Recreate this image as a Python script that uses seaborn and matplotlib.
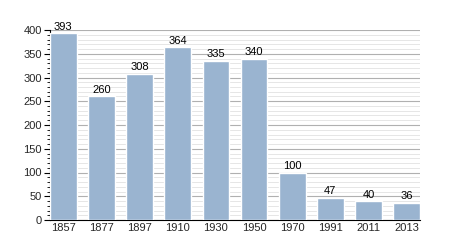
import matplotlib
matplotlib.use("Agg")
import matplotlib.pyplot as plt
import seaborn as sns
import pandas as pd
from matplotlib.ticker import MultipleLocator
from matplotlib import font_manager as fm

years = ["1857", "1877", "1897", "1910", "1930", "1950", "1970", "1991", "2011", "2013"]
population = [393, 260, 308, 364, 335, 340, 100, 47, 40, 36]

df = pd.DataFrame({"year": years, "pop": population})

sns.set_theme(style="white")
fam = "Liberation Sans"
try:
    p = fm.findfont(fm.FontProperties(family="Liberation Sans"), fallback_to_default=False)
    if "Narrow" in p:
        fam = "Noto Sans"
except Exception:
    fam = "DejaVu Sans"
plt.rcParams["font.family"] = [fam, "DejaVu Sans"]

fig = plt.figure(figsize=(4.5, 2.5), dpi=100)
ax = fig.add_axes([50/450, 30/250, 370/450, 190/250])

sns.barplot(data=df, x="year", y="pop", color="#9ab4d0", saturation=1, width=0.7, ax=ax, zorder=3)

ax.set_xlim(-0.35, 9.35)
ax.set_ylim(0, 400)
ax.yaxis.set_major_locator(MultipleLocator(50))
ax.yaxis.set_minor_locator(MultipleLocator(10))
ax.grid(which="major", axis="y", color="#b0b0b0", linewidth=0.8, zorder=0)
ax.grid(which="minor", axis="y", color="#e2e2e2", linewidth=0.6, zorder=0)
ax.set_axisbelow(True)

for s in ["top", "right"]:
    ax.spines[s].set_visible(False)
for s in ["left", "bottom"]:
    ax.spines[s].set_color("black")
    ax.spines[s].set_linewidth(0.8)

ax.tick_params(axis="y", which="major", left=True, length=4, width=0.8, color="black", labelsize=8, pad=2)
ax.tick_params(axis="y", which="minor", left=True, length=2, width=0.6, color="black")
ax.tick_params(axis="x", bottom=False, length=0, labelsize=8, pad=2)

for i, v in enumerate(population):
    ax.text(i, v + 3, str(v), ha="center", va="bottom", fontsize=8, color="black")

ax.set_xlabel("")
ax.set_ylabel("")
fig.savefig("out.png", dpi=100)
